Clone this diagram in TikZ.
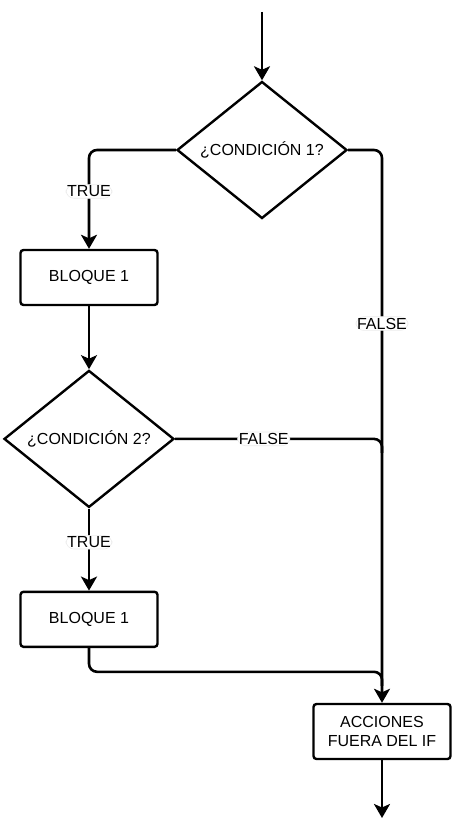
\documentclass[tikz,border=0pt]{standalone}
\usepackage{fontspec}
\setmainfont{Liberation Sans}
\usepackage{tikz}
\usetikzlibrary{arrows.meta,positioning,shapes.geometric,calc}

\begin{document}
\begin{tikzpicture}[
    x=1pt,y=1pt,
    node distance=60pt and 60pt,
    decision/.style={diamond,draw=black,line width=2.4pt,aspect=1.24,inner sep=0pt,
      minimum width=170pt,minimum height=137pt,font=\fontsize{16}{19}\selectfont},
    block/.style={draw=black,line width=2.4pt,rounded corners=3pt,align=center,
      minimum width=137pt,minimum height=55pt,inner sep=0pt,
      font=\fontsize{16}{19}\selectfont},
    flow/.style={-{Stealth[length=14pt,width=16pt,inset=3.5pt]},draw=black,line width=2.6pt,
      rounded corners=8pt},
    line/.style={draw=black,line width=2.6pt,rounded corners=8pt},
    lbl/.style={fill=white,draw=black!8,line width=0.6pt,inner sep=1.2pt,
      font=\fontsize{16}{18}\selectfont}
  ]
    \useasboundingbox (0,0) rectangle (452,-832);
    \coordinate (start) at (262,-12);
    \node[decision] (cond1) at (262,-150) {¿CONDICIÓN 1?};
    \node[block] (bloque1) at (89,-277.5) {BLOQUE 1};
    \node[decision,below=63pt of bloque1] (cond2) {¿CONDICIÓN 2?};
    \node[block,below=82pt of cond2] (bloque2) {BLOQUE 1};
    \node[block] (acciones) at (382,-731.5) {ACCIONES\\FUERA DEL IF};
    \coordinate (fin) at (382,-818);
    \coordinate (junta) at ($(acciones.north)+(0,31)$);
    \draw[flow] (start) -- (cond1);
    \draw[flow] (cond1.west) -| node[lbl,pos=0.71]{TRUE} (bloque1.north);
    \draw[flow] (cond1.east) -| node[lbl,pos=0.657]{FALSE} (acciones.north);
    \draw[flow] (bloque1) -- (cond2);
    \draw[line] (cond2.east) -| node[lbl,pos=0.214]{FALSE} ([yshift=-14pt]cond2.east -| acciones.north);
    \draw[flow] (cond2) -- node[lbl,pos=0.41]{TRUE} (bloque2);
    \draw[line] (bloque2.south) |- (junta) -- ([yshift=-14pt]junta);
    \draw[flow] (acciones) -- (fin);
  \end{tikzpicture}
\end{document}
